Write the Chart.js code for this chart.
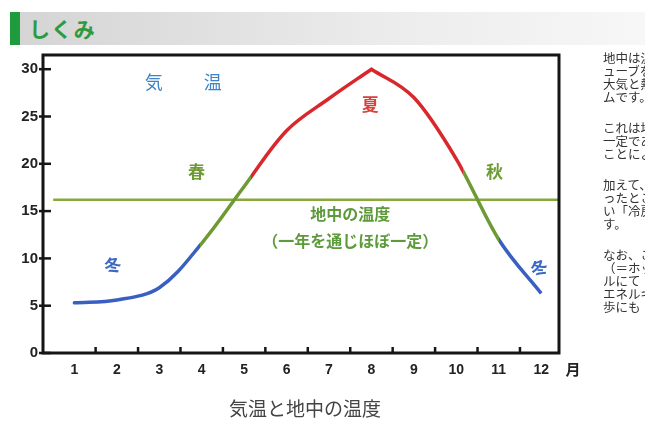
<!DOCTYPE html>
<html>
<head>
<meta charset="utf-8">
<script src="https://cdn.jsdelivr.net/npm/chart.js@4/dist/chart.umd.min.js"></script>
<style>
  html, body { margin: 0; padding: 0; background: #fff; }
  body { width: 645px; height: 421px; position: relative; overflow: hidden; font-family: "Noto Sans CJK JP", sans-serif; }
  .header { position: absolute; left: 10px; top: 12px; width: 635px; height: 33px; background: linear-gradient(to right, #d4d4d4, #ececec 60%, #f7f7f7); }
  .header .strip { position: absolute; left: 0; top: 0; width: 10px; height: 33px; background: #1e9b3c; }
  .header .title { position: absolute; left: 19px; top: 3px; font-size: 21px; font-weight: bold; color: #2e9a3e; letter-spacing: 1px; line-height: 26px; }
  .chart-wrap { position: absolute; left: 0; top: 0; width: 645px; height: 421px; }
  .side-text { position: absolute; left: 603px; top: 51px; font-size: 12.5px; line-height: 13px; color: #333; white-space: nowrap; }
  .side-text p { margin: 0 0 18px 0; }
  .caption { position: absolute; left: 0; width: 610px; top: 394px; text-align: center; font-size: 19px; color: #444; }
</style>
</head>
<body>
<div class="header"><div class="strip"></div><div class="title">しくみ</div></div>
<div class="chart-wrap"><canvas id="tempChart" width="645" height="421"></canvas></div>
<div class="side-text">
  <p>地中は温度が<br>ューブを通し<br>大気と熱を交<br>ムです。</p>
  <p>これは地中の<br>一定である<br>ことによるも</p>
  <p>加えて、夏は<br>ったところに<br>い「冷房」<br>す。</p>
  <p>なお、この<br>（＝ホット<br>ルにて<br>エネルギー<br>歩にも</p>
</div>
<div class="caption">気温と地中の温度</div>
<script>
// months and values
const months = [1, 2, 3, 4, 5, 6, 7, 8, 9, 10, 11, 12];
const airTemp = [5.3, 5.6, 6.9, 11.6, 17.6, 23.5, 26.9, 30, 27, 20.5, 12, 6.3];
const groundX = [0.5, 12.42];
const groundTemp = [16.2, 16.2];
const yTicks = [0, 5, 10, 15, 20, 25, 30];
const monthEdges = [1.5, 2.5, 3.5, 4.5, 5.5, 6.5, 7.5, 8.5, 9.5, 10.5, 11.5];
// where the line changes colour: winter | spring | summer | autumn | winter
const seasonBreaks = [3.95, 5.15, 10.15, 11.0];
const seasonColors = ["#3a5fc2", "#6e9a34", "#d8282c", "#6e9a34", "#3a5fc2"];

// annotations [text, month, temp, colour, font, rotation]
const notes = [
  ["気", 2.87, 28.6, "#3f82c6", "18px 'Noto Sans CJK JP'", 0],
  ["温", 4.26, 28.6, "#3f82c6", "18px 'Noto Sans CJK JP'", 0],
  ["春", 3.88, 19.2, "#6e9a34", "bold 17px 'Noto Sans CJK JP'", 0],
  ["夏", 7.97, 26.3, "#d8403a", "bold 17px 'Noto Sans CJK JP'", 0],
  ["秋", 10.9, 19.2, "#6e9a34", "bold 17px 'Noto Sans CJK JP'", 0],
  ["冬", 1.9, 9.3, "#3a68c2", "bold 17px 'Noto Sans CJK JP'", -0.15],
  ["冬", 11.95, 9.0, "#3a68c2", "bold 17px 'Noto Sans CJK JP'", -0.35],
  ["地中の温度", 7.5, 14.7, "#5c9a3a", "bold 16px 'Noto Sans CJK JP'", 0],
  ["（一年を通じほぼ一定）", 7.5, 11.8, "#5c9a3a", "bold 16px 'Noto Sans CJK JP'", 0]
];

const points = months.map((m, i) => ({ x: m, y: airTemp[i] }));

function seasonGradient(context) {
  const chart = context.chart;
  const { chartArea, scales } = chart;
  if (!chartArea) return seasonColors[0];
  const g = chart.ctx.createLinearGradient(chartArea.left, 0, chartArea.right, 0);
  const w = chartArea.right - chartArea.left;
  g.addColorStop(0, seasonColors[0]);
  seasonBreaks.forEach((b, i) => {
    const t = Math.min(1, Math.max(0, (scales.x.getPixelForValue(b) - chartArea.left) / w));
    g.addColorStop(t, seasonColors[i]);
    g.addColorStop(Math.min(1, t + 0.0001), seasonColors[i + 1]);
  });
  g.addColorStop(1, seasonColors[seasonColors.length - 1]);
  return g;
}

// frame, tick marks, "月" and the labels inside the plot
const framePlugin = {
  id: "frame",
  afterDraw(chart) {
    const { ctx, chartArea, scales } = chart;
    const { x, y } = scales;
    ctx.save();
    ctx.strokeStyle = "#151515";
    ctx.lineWidth = 2.5;
    monthEdges.forEach(m => {
      const px = x.getPixelForValue(m);
      ctx.beginPath();
      ctx.moveTo(px, chartArea.bottom);
      ctx.lineTo(px, chartArea.bottom - 6);
      ctx.stroke();
    });
    yTicks.forEach(v => {
      const py = y.getPixelForValue(v);
      ctx.beginPath();
      ctx.moveTo(chartArea.left - 4, py);
      ctx.lineTo(chartArea.left + 8, py);
      ctx.stroke();
    });
    ctx.lineWidth = 3;
    ctx.strokeRect(chartArea.left, chartArea.top, chartArea.right - chartArea.left, chartArea.bottom - chartArea.top);

    ctx.fillStyle = "#222";
    ctx.font = "bold 15px 'Noto Sans CJK JP'";
    ctx.textAlign = "center";
    ctx.textBaseline = "middle";
    ctx.fillText("月", chartArea.right + 14, chartArea.bottom + 16);

    notes.forEach(([text, mx, vy, color, font, rot]) => {
      ctx.save();
      ctx.translate(x.getPixelForValue(mx), y.getPixelForValue(vy));
      ctx.rotate(rot);
      ctx.fillStyle = color;
      ctx.font = font;
      ctx.fillText(text, 0, 0);
      ctx.restore();
    });
    ctx.restore();
  }
};

new Chart(document.getElementById("tempChart"), {
  type: "line",
  data: {
    datasets: [
      {
        label: "気温（上り）",
        data: points.slice(0, 8),
        borderColor: seasonGradient,
        borderWidth: 3.5,
        pointRadius: 0,
        tension: 0.35,
        borderCapStyle: "round"
      },
      {
        label: "気温（下り）",
        data: points.slice(7),
        borderColor: seasonGradient,
        borderWidth: 3.5,
        pointRadius: 0,
        cubicInterpolationMode: "monotone",
        borderCapStyle: "butt"
      },
      {
        label: "地中の温度",
        data: groundX.map((m, i) => ({ x: m, y: groundTemp[i] })),
        borderColor: "#86a83c",
        borderWidth: 2.5,
        pointRadius: 0
      }
    ]
  },
  options: {
    responsive: false,
    animation: false,
    layout: { padding: { left: 0, top: 55, right: 86, bottom: 0 } },
    plugins: {
      legend: { display: false },
      tooltip: { enabled: false }
    },
    scales: {
      x: {
        type: "linear",
        min: 0.26,
        max: 12.42,
        afterFit: s => { s.height = 68; },
        afterBuildTicks: s => { s.ticks = months.map(v => ({ value: v })); },
        grid: { display: false, drawTicks: false },
        border: { display: false },
        ticks: {
          padding: 9,
          color: "#222",
          font: { family: "'Liberation Sans', Arial, sans-serif", size: 14, weight: "bold" }
        }
      },
      y: {
        min: 0,
        max: 31.5,
        afterFit: s => { s.width = 43; },
        afterBuildTicks: s => { s.ticks = yTicks.map(v => ({ value: v })); },
        grid: { display: false, drawTicks: false },
        border: { display: false },
        ticks: {
          padding: 5,
          color: "#222",
          font: { family: "'Liberation Sans', Arial, sans-serif", size: 15, weight: "bold" }
        }
      }
    }
  },
  plugins: [framePlugin]
});
</script>
</body>
</html>
